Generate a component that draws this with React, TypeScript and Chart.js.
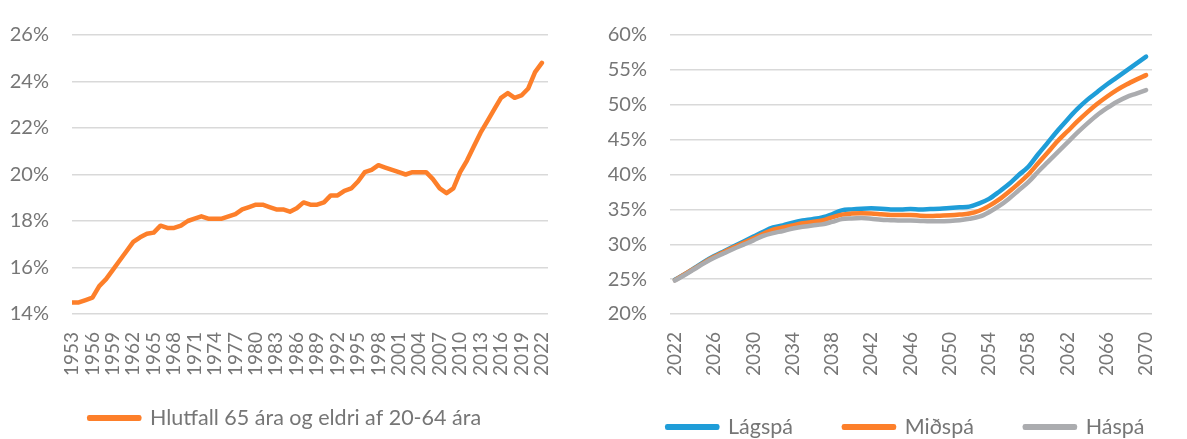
import React, { useEffect, useRef } from 'react';
import { Chart, registerables } from 'chart.js';

Chart.register(...registerables);

// ---------- Data: left chart (history) ----------
const histLabel = 'Hlutfall 65 ára og eldri af 20-64 ára';
const histYears = [
  1953, 1954, 1955, 1956, 1957, 1958, 1959, 1960, 1961, 1962,
  1963, 1964, 1965, 1966, 1967, 1968, 1969, 1970, 1971, 1972,
  1973, 1974, 1975, 1976, 1977, 1978, 1979, 1980, 1981, 1982,
  1983, 1984, 1985, 1986, 1987, 1988, 1989, 1990, 1991, 1992,
  1993, 1994, 1995, 1996, 1997, 1998, 1999, 2000, 2001, 2002,
  2003, 2004, 2005, 2006, 2007, 2008, 2009, 2010, 2011, 2012,
  2013, 2014, 2015, 2016, 2017, 2018, 2019, 2020, 2021, 2022,
];
const histValues = [
  14.5, 14.5, 14.6, 14.7, 15.2, 15.5, 15.9, 16.3, 16.7, 17.1,
  17.3, 17.45, 17.5, 17.8, 17.7, 17.7, 17.8, 18.0, 18.1, 18.2,
  18.1, 18.1, 18.1, 18.2, 18.3, 18.5, 18.6, 18.7, 18.7, 18.6,
  18.5, 18.5, 18.4, 18.55, 18.8, 18.7, 18.7, 18.8, 19.1, 19.1,
  19.3, 19.4, 19.7, 20.1, 20.2, 20.4, 20.3, 20.2, 20.1, 20.0,
  20.1, 20.1, 20.1, 19.8, 19.4, 19.2, 19.4, 20.1, 20.6, 21.2,
  21.8, 22.3, 22.8, 23.3, 23.5, 23.3, 23.4, 23.7, 24.4, 24.8,
];
const histTickYears = [
  1953, 1956, 1959, 1962, 1965, 1968, 1971, 1974, 1977, 1980, 1983, 1986,
  1989, 1992, 1995, 1998, 2001, 2004, 2007, 2010, 2013, 2016, 2019, 2022,
];

// ---------- Data: right chart (projection) ----------
const projYears = [
  2022, 2023, 2024, 2025, 2026, 2027, 2028, 2029, 2030, 2031,
  2032, 2033, 2034, 2035, 2036, 2037, 2038, 2039, 2040, 2041,
  2042, 2043, 2044, 2045, 2046, 2047, 2048, 2049, 2050, 2051,
  2052, 2053, 2054, 2055, 2056, 2057, 2058, 2059, 2060, 2061,
  2062, 2063, 2064, 2065, 2066, 2067, 2068, 2069, 2070,
];
const lowLabel = 'Lágspá';
const lowValues = [
  24.9, 25.7, 26.6, 27.5, 28.3, 29.0, 29.7, 30.4, 31.1, 31.8,
  32.4, 32.7, 33.1, 33.4, 33.6, 33.85, 34.3, 34.85, 35.0, 35.1,
  35.15, 35.1, 35.0, 35.0, 35.05, 35.0, 35.05, 35.1, 35.2, 35.3,
  35.4, 35.85, 36.5, 37.5, 38.6, 39.9, 41.1, 42.9, 44.6, 46.3,
  47.9, 49.4, 50.7, 51.8, 52.9, 53.9, 54.9, 55.9, 56.9,
];
const midLabel = 'Miðspá';
const midValues = [
  24.85, 25.7, 26.55, 27.4, 28.2, 28.9, 29.55, 30.2, 30.85, 31.5,
  32.1, 32.4, 32.7, 33.0, 33.2, 33.4, 33.85, 34.25, 34.4, 34.45,
  34.4, 34.3, 34.2, 34.2, 34.2, 34.1, 34.05, 34.1, 34.15, 34.25,
  34.4, 34.8, 35.5, 36.4, 37.5, 38.7, 40.0, 41.6, 43.2, 44.8,
  46.2, 47.6, 48.9, 50.1, 51.15, 52.1, 52.9, 53.6, 54.25,
];
const highLabel = 'Háspá';
const highValues = [
  24.8, 25.6, 26.45, 27.3, 28.05, 28.7, 29.35, 29.95, 30.55, 31.2,
  31.6, 31.9, 32.25, 32.5, 32.7, 32.85, 33.2, 33.6, 33.7, 33.75,
  33.65, 33.5, 33.45, 33.4, 33.4, 33.35, 33.3, 33.3, 33.35, 33.45,
  33.65, 33.95, 34.6, 35.45, 36.5, 37.7, 38.9, 40.4, 41.8, 43.2,
  44.6, 46.0, 47.3, 48.5, 49.5, 50.4, 51.1, 51.6, 52.1,
];
const projTickYears = [2022, 2026, 2030, 2034, 2038, 2042, 2046, 2050, 2054, 2058, 2062, 2066, 2070];

// ---------- Styles ----------
const FONT = 'Lato';
const TEXT = '#767676';
const GRID = '#d9d9d9';
const ORANGE = '#FD7F2A';
const BLUE = '#1F9DD8';
const GRAY = '#ABACAF';
const LEGEND_SIZE = 21.5;

const toPoints = (xs: number[], ys: number[]) => xs.map((x, i) => ({ x, y: ys[i] }));

function lineDs(label: string, xs: number[], ys: number[], color: string, order: number, smooth: boolean) {
  return {
    label,
    data: toPoints(xs, ys),
    borderColor: color,
    backgroundColor: color,
    borderWidth: 4.5,
    pointRadius: 0,
    pointHoverRadius: 0,
    borderCapStyle: 'round',
    borderJoinStyle: 'round',
    cubicInterpolationMode: smooth ? 'monotone' : 'default',
    tension: 0,
    order,
  };
}

// Places the built-in legend at a given first-item x and text-centre y (canvas coords).
const legendPlace = {
  id: 'legendPlace',
  afterLayout(chart: any, _args: any, opts: any) {
    const lg = chart.legend;
    if (!lg || !lg.lineWidths || opts == null || opts.x == null) return;
    const labels = lg.options.labels;
    const pad = labels.padding;
    const itemH = Math.max(labels.font.size || LEGEND_SIZE, labels.boxHeight || 0);
    const curStart = (lg.left + pad + lg.right - lg.lineWidths[0]) / 2;
    const dx = opts.x - curStart;
    lg.left += dx;
    lg.right += dx;
    lg.top = opts.y - pad - itemH / 2;
    lg.bottom = opts.y + itemH;
    lg.height = lg.bottom - lg.top;
  },
};

function legendOpts(padding: number, extra: any = {}) {
  return {
    position: 'bottom',
    maxHeight: 40,
    labels: {
      boxWidth: 50, boxHeight: 1.5,
      color: TEXT, font: { family: FONT, size: LEGEND_SIZE }, padding,
      ...extra,
    },
  };
}

function xScale(min: number, max: number, ticks: number[]) {
  return {
    type: 'linear', min, max,
    grid: { display: false, drawTicks: false },
    border: { display: false },
    afterBuildTicks: (s: any) => { s.ticks = ticks.map((v) => ({ value: v })); },
    afterFit: (s: any) => { s.height = 70; },
    ticks: {
      autoSkip: false, minRotation: 90, maxRotation: 90, padding: 18,
      color: TEXT, font: { family: FONT, size: 19 },
      callback: (v: any) => String(v),
    },
  };
}

function yScale(min: number, max: number, step: number, width: number) {
  return {
    min, max,
    grid: { color: GRID, lineWidth: 1.5, drawTicks: false },
    border: { display: false },
    afterFit: (s: any) => { s.width = width; },
    ticks: {
      stepSize: step, padding: 23, color: TEXT, font: { family: FONT, size: 20 },
      callback: (v: any) => v + '%',
    },
  };
}

function leftConfig(): any {
  return {
    type: 'line',
    data: { datasets: [lineDs(histLabel, histYears, histValues, ORANGE, 0, false)] },
    plugins: [legendPlace],
    options: {
      animation: false,
      responsive: true,
      maintainAspectRatio: false,
      layout: { padding: { left: 0, right: 37, top: 19, bottom: 15 } },
      plugins: {
        tooltip: { enabled: false },
        legend: legendOpts(10),
        legendPlace: { x: 89.25, y: 418 },
      },
      scales: {
        x: xScale(1953, 2022.9, histTickYears),
        y: yScale(14, 26, 2, 72),
      },
    },
  };
}

const RIGHT_LEFT = 560;

function rightConfig(): any {
  return {
    type: 'line',
    data: {
      datasets: [
        lineDs(lowLabel, projYears, lowValues, BLUE, 3, true),
        lineDs(midLabel, projYears, midValues, ORANGE, 2, true),
        lineDs(highLabel, projYears, highValues, GRAY, 1, true),
      ],
    },
    plugins: [legendPlace],
    options: {
      animation: false,
      responsive: true,
      maintainAspectRatio: false,
      layout: { padding: { left: 0, right: 9, top: 21, bottom: 15 } },
      plugins: {
        tooltip: { enabled: false },
        legend: legendOpts(51, { sort: (a: any, b: any) => a.datasetIndex - b.datasetIndex }),
        legendPlace: { x: 667.25 - RIGHT_LEFT, y: 427 },
      },
      scales: {
        x: xScale(2021.5, 2070.6, projTickYears),
        y: yScale(20, 60, 5, 670 - RIGHT_LEFT),
      },
    },
  };
}

function ChartBox({ makeConfig, style }: { makeConfig: () => any; style: React.CSSProperties }) {
  const ref = useRef<HTMLCanvasElement>(null);
  useEffect(() => {
    if (!ref.current) return;
    const chart = new Chart(ref.current, makeConfig());
    return () => chart.destroy();
  }, []);
  return (
    <div style={{ position: 'absolute', ...style }}>
      <canvas ref={ref} />
    </div>
  );
}

export default function App() {
  return (
    <div style={{ position: 'fixed', left: 0, top: 0, width: 1187, height: 439, overflow: 'hidden', background: '#ffffff' }}>
      <ChartBox makeConfig={leftConfig} style={{ left: 0, top: 0, width: 585, height: 439 }} />
      <ChartBox makeConfig={rightConfig} style={{ left: RIGHT_LEFT, top: 0, width: 1187 - RIGHT_LEFT, height: 439 }} />
    </div>
  );
}
